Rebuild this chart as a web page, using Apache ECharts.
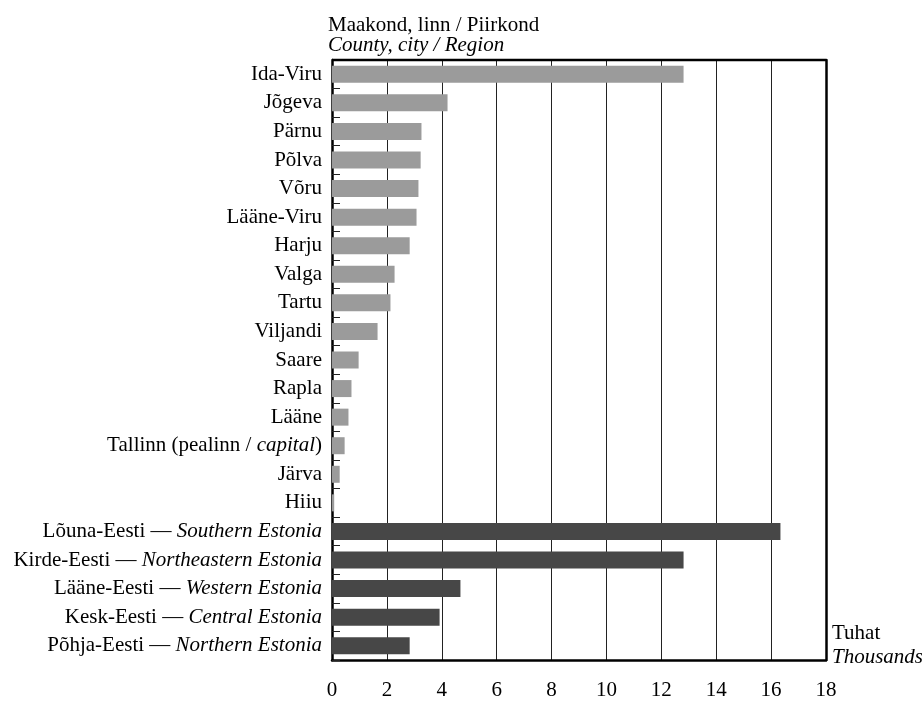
<!DOCTYPE html>
<html>
<head>
<meta charset="utf-8">
<script src="https://cdn.jsdelivr.net/npm/echarts@6/dist/echarts.min.js"></script>
<style>
  html, body { margin: 0; padding: 0; background: #fff; }
  #chart { width: 922px; height: 701px; }
</style>
</head>
<body>
<div id="chart"></div>
<script>
// counties (maakond) and the city of Tallinn, thousands
const countyNames = ["Ida-Viru", "Jõgeva", "Pärnu", "Põlva", "Võru", "Lääne-Viru", "Harju", "Valga",
  "Tartu", "Viljandi", "Saare", "Rapla", "Lääne", "Tallinn", "Järva", "Hiiu"];
const countyValues = [12.81, 4.21, 3.26, 3.23, 3.15, 3.08, 2.83, 2.28,
  2.13, 1.66, 0.97, 0.71, 0.60, 0.46, 0.28, 0.08];

// regions (piirkond)
const regionNames = ["Lõuna-Eesti", "Kirde-Eesti", "Lääne-Eesti", "Kesk-Eesti", "Põhja-Eesti"];
const regionNamesEn = ["Southern Estonia", "Northeastern Estonia", "Western Estonia", "Central Estonia", "Northern Estonia"];
const regionValues = [16.34, 12.81, 4.68, 3.92, 2.83];

const xTicks = [0, 2, 4, 6, 8, 10, 12, 14, 16, 18];

const FONT = "Liberation Serif";
const FS = 21;

const categories = countyNames.concat(regionNames);
const values = countyValues.concat(regionValues);

const chart = echarts.init(document.getElementById("chart"));

function labelFor(name) {
  if (name === "Tallinn") return "Tallinn (pealinn / {i|capital})";
  const r = regionNames.indexOf(name);
  if (r >= 0) return name + " — {i|" + regionNamesEn[r] + "}";
  return name;
}

const option = {
  backgroundColor: "#fff",
  animation: false,
  grid: {
    left: 332,
    right: 96,
    top: 60,
    bottom: 38,
    show: false
  },
  xAxis: {
    type: "value",
    min: xTicks[0],
    max: xTicks[xTicks.length - 1],
    interval: 2,
    axisLine: { show: true, lineStyle: { color: "#000", width: 2.5 } },
    axisTick: { show: false },
    axisLabel: {
      margin: 20,
      color: "#000",
      fontFamily: FONT,
      fontSize: FS
    },
    splitLine: { show: true, lineStyle: { color: "#222", width: 1 } }
  },
  yAxis: [
    {
      type: "category",
      inverse: true,
      data: categories,
      axisLine: { show: true, lineStyle: { color: "#000", width: 2.5 } },
      axisTick: { show: true, inside: true, length: 8, lineStyle: { color: "#222", width: 1 } },
      axisLabel: {
        margin: 10,
        color: "#000",
        fontFamily: FONT,
        fontSize: FS,
        formatter: labelFor,
        rich: {
          i: { fontStyle: "italic", fontFamily: FONT, fontSize: FS, color: "#000" }
        }
      },
      splitLine: { show: false }
    },
    {
      // right frame
      type: "category",
      inverse: true,
      position: "right",
      data: categories,
      axisLine: { show: true, lineStyle: { color: "#000", width: 2.5 } },
      axisTick: { show: false },
      axisLabel: { show: false }
    }
  ],
  graphic: [
    // top frame line
    {
      type: "line",
      shape: { x1: 332, y1: 60, x2: 826, y2: 60 },
      style: { stroke: "#000", lineWidth: 2.5 },
      z: 100
    },
    {
      type: "text",
      left: 328,
      top: 15,
      style: { text: "Maakond, linn / Piirkond", font: FS + "px '" + FONT + "'", fill: "#000" }
    },
    {
      type: "text",
      left: 328,
      top: 35,
      style: { text: "County, city / Region", font: "italic " + FS + "px '" + FONT + "'", fill: "#000" }
    },
    {
      type: "text",
      left: 832,
      top: 623,
      style: { text: "Tuhat", font: FS + "px '" + FONT + "'", fill: "#000" }
    },
    {
      type: "text",
      left: 832,
      top: 647,
      style: { text: "Thousands", font: "italic " + FS + "px '" + FONT + "'", fill: "#000" }
    }
  ],
  series: [
    {
      type: "bar",
      barWidth: 17,
      data: values,
      itemStyle: {
        color: (p) => (p.dataIndex < countyNames.length ? "#9b9b9b" : "#474747")
      },
      z: 2
    }
  ]
};

chart.setOption(option);
</script>
</body>
</html>
